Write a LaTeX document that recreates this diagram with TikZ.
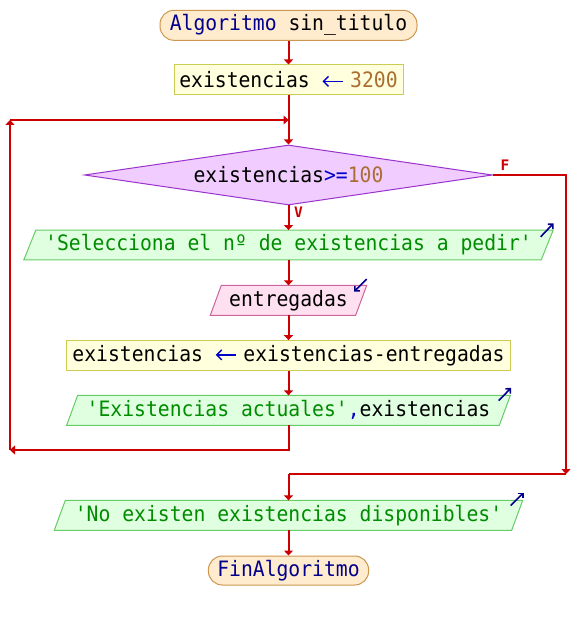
\documentclass[tikz,border=0pt]{standalone}
\usepackage{fontspec}
\newfontfamily\pfont[FakeStretch=0.93]{DejaVu Sans Mono}
\newfontfamily\lblfont{DejaVu Sans Mono}
\usetikzlibrary{shapes.geometric,arrows.meta,backgrounds}
\definecolor{conn}{RGB}{204,0,0}
\definecolor{kw}{RGB}{0,0,140}
\definecolor{op}{RGB}{0,0,200}
\definecolor{num}{RGB}{170,110,50}
\definecolor{strg}{RGB}{0,140,0}
\definecolor{titlefill}{RGB}{255,236,207}
\definecolor{titledraw}{RGB}{205,150,80}
\definecolor{asgfill}{RGB}{255,255,221}
\definecolor{asgdraw}{RGB}{204,204,85}
\definecolor{decfill}{RGB}{240,204,255}
\definecolor{decdraw}{RGB}{153,51,204}
\definecolor{outfill}{RGB}{224,255,224}
\definecolor{outdraw}{RGB}{102,204,102}
\definecolor{infill}{RGB}{255,224,240}
\definecolor{indraw}{RGB}{204,102,153}
\newcommand{\asgarrow}{\kern12pt\raisebox{0.8pt}{\tikz[x=1pt,y=1pt]{\draw[draw=op, line width=1.4pt, {Straight Barb[length=5pt,width=10pt]}-] (0,0) -- (20,0);}}\kern7pt}
\tikzset{
  txt/.style={inner sep=0pt, font=\pfont\fontsize{21.2}{25}\selectfont},
  titlebox/.style={txt, draw=titledraw, fill=titlefill, line width=1pt, rounded corners=14pt, minimum height=30pt},
  asgbox/.style={txt, draw=asgdraw, fill=asgfill, line width=1pt, minimum height=30pt},
  decbox/.style={txt, diamond, aspect=6.8, draw=decdraw, fill=decfill, line width=1pt, minimum width=408pt, minimum height=60pt},
  iobox/.style={txt, minimum height=29.5pt},
  outshape/.style={fill=outfill, draw=outdraw, line width=1pt},
  inshape/.style={fill=infill, draw=indraw, line width=1pt},
  conn/.style={draw=conn, line width=2pt},
  connarrow/.style={conn, -{Triangle[length=5pt,width=9pt]}},
  icon/.style={draw=kw, line width=1.6pt, -{Straight Barb[length=3.5pt,width=7pt]}},
  lbl/.style={text=conn, inner sep=0pt, font=\lblfont\bfseries\fontsize{14.5}{16}\selectfont}
}
\begin{document}
\begin{tikzpicture}[x=1pt,y=-1pt]
\useasboundingbox (0,0) rectangle (576,620);

% nodes
\node[titlebox, minimum width=257pt] (title) at (288.5,25.3) {\textcolor{kw}{Algoritmo} sin\_titulo};
\node[asgbox, minimum width=229pt] (a1) at (288.5,80) {existencias\asgarrow\textcolor{num}{3200}};
\node[decbox] (d) at (288.5,175) {existencias\textcolor{op}{>=}\textcolor{num}{100}};
\node[iobox, minimum width=529pt] (o1) at (288.5,245) {\textcolor{strg}{'Selecciona el nº de existencias a pedir'}};
\node[iobox, minimum width=156pt] (i1) at (288.5,300.3) {entregadas};
\node[asgbox, minimum width=443.3pt] (a2) at (288.5,355.6) {existencias\asgarrow existencias-entregadas};
\node[iobox, minimum width=443.3pt] (o2) at (288.5,410.3) {\textcolor{strg}{'Existencias actuales'}\textcolor{op}{,}existencias};
\node[iobox, minimum width=468pt] (o3) at (288.5,515.3) {\textcolor{strg}{'No existen existencias disponibles'}};
\node[titlebox, minimum width=160.3pt, minimum height=29pt] (fin) at (288.5,570.5) {\textcolor{kw}{FinAlgoritmo}};
\node[lbl] (lblF) at (505,165.5) {F};
\node[lbl] (lblV) at (298.5,212.5) {V};

% white page and parallelogram shapes behind texts
\begin{scope}[on background layer]
\fill[white] (0,0) rectangle (576,620);
\path[outshape] ([xshift=12pt]o1.north west) -- (o1.north east) -- ([xshift=-12pt]o1.south east) -- (o1.south west) -- cycle;
\path[inshape] ([xshift=11pt]i1.north west) -- (i1.north east) -- ([xshift=-11pt]i1.south east) -- (i1.south west) -- cycle;
\path[outshape] ([xshift=11pt]o2.north west) -- (o2.north east) -- ([xshift=-11pt]o2.south east) -- (o2.south west) -- cycle;
\path[outshape] ([xshift=11pt]o3.north west) -- (o3.north east) -- ([xshift=-11pt]o3.south east) -- (o3.south west) -- cycle;
\end{scope}

% io icons
\draw[icon] ([xshift=-12.5pt,yshift=-6.7pt]o1.north east) -- ([xshift=0.3pt,yshift=6.7pt]o1.north east);
\draw[icon] ([yshift=6.2pt]i1.north east) -- ([xshift=-12.7pt,yshift=-6.2pt]i1.north east);
\draw[icon] ([xshift=-11.7pt,yshift=-5.3pt]o2.north east) -- ([xshift=0.7pt,yshift=7.4pt]o2.north east);
\draw[icon] ([xshift=-12pt,yshift=-5.3pt]o3.north east) -- ([xshift=1pt,yshift=7.7pt]o3.north east);

% coordinates for loop and branch
\coordinate (lb) at (288.5,450);
\coordinate (lbl) at (10,450);
\coordinate (ltl) at (10,120);
\coordinate (ltr) at (288.5,120);
\coordinate (rt) at (566,175);
\coordinate (rb) at (566,474);
\coordinate (mb) at (288.5,474);

% connectors
\draw[connarrow] (title.south) -- (a1.north);
\draw[connarrow] (a1.south) -- (d.north);
\draw[connarrow] (d.south) -- (o1.north);
\draw[connarrow] (o1.south) -- (i1.north);
\draw[connarrow] (i1.south) -- (a2.north);
\draw[connarrow] (a2.south) -- (o2.north);
\draw[connarrow] (o2.south) -- (lb) -- (lbl);
\draw[connarrow] (lbl) -- (ltl);
\draw[connarrow] (ltl) -- (ltr);
\draw[connarrow] (d.east) -- (rt) -- (rb);
\draw[conn] (rb) -- (mb);
\draw[connarrow] (mb) -- (o3.north);
\draw[connarrow] (o3.south) -- (fin.north);
\end{tikzpicture}
\end{document}
